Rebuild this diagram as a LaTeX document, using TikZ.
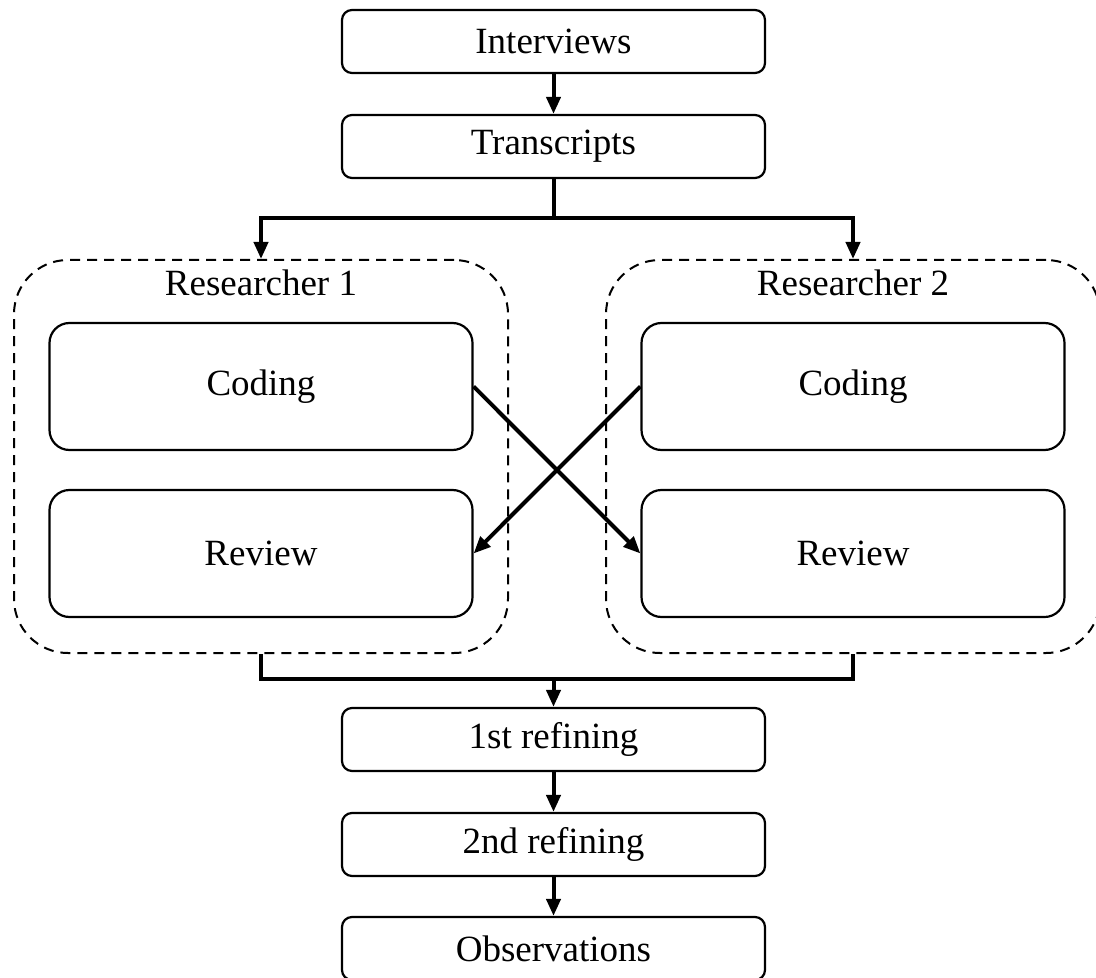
\documentclass[tikz,border=0pt]{standalone}
\usepackage{fontspec}
\setmainfont{Liberation Serif}
\usetikzlibrary{arrows.meta}
\begin{document}
\begin{tikzpicture}[x=0.5pt,y=-0.5pt,
  font=\fontsize{18.5pt}{22pt}\selectfont,
  stepbox/.style={draw,line width=1.1pt,rounded corners=5pt,inner sep=0pt,
    minimum width=211.5pt,minimum height=31.5pt},
  taskbox/.style={draw,line width=1.1pt,rounded corners=10pt,inner sep=0pt,
    minimum width=211.5pt,minimum height=63.5pt},
  groupbox/.style={draw,dash pattern=on 5pt off 3.5pt,line width=1pt,
    rounded corners=27pt,inner sep=0pt,minimum width=247pt,minimum height=196.5pt},
  flow/.style={line width=2pt,-{Triangle[length=8.5pt,width=7pt]}},
  link/.style={line width=2pt}
]
\useasboundingbox (0,0) rectangle (1096,978);

% main chain
\node[stepbox] (int) at (553.5,41.5) {Interviews};
\node[stepbox] (tra) at (553.5,146.5) {Transcripts};

% researcher groups
\node[groupbox] (g1) at (261,456.5) {};
\node[groupbox] (g2) at (853,456.5) {};
\node[anchor=base] (t1) at (261,296) {Researcher 1};
\node[anchor=base] (t2) at (853,296) {Researcher 2};
\node[taskbox] (c1) at (261,386.5) {Coding};
\node[taskbox] (r1) at (261,553.5) {Review};
\node[taskbox] (c2) at (853,386.5) {Coding};
\node[taskbox] (r2) at (853,553.5) {Review};

% refining stages
\node[stepbox] (ref1) at (553.5,739.5) {1st refining};
\node[stepbox] (ref2) at (553.5,844.5) {2nd refining};
\node[stepbox] (obs) at (553.5,948.5) {Observations};

% connectors
\draw[flow] (int) -- (tra);
\coordinate (split) at (553.5,218);
\draw[link] (tra.south) -- (split);
\draw[flow] (split) -| (g1.north);
\draw[flow] (split) -| (g2.north);

\draw[flow] (c1.east) -- (r2.west);
\draw[flow] (c2.west) -- (r1.east);

\coordinate (merge) at (553.5,679);
\draw[link] (g1.south) |- (merge);
\draw[link] (g2.south) |- (merge);
\draw[flow] (merge) -- (ref1.north);
\draw[flow] (ref1) -- (ref2);
\draw[flow] (ref2) -- (obs);
\end{tikzpicture}
\end{document}
